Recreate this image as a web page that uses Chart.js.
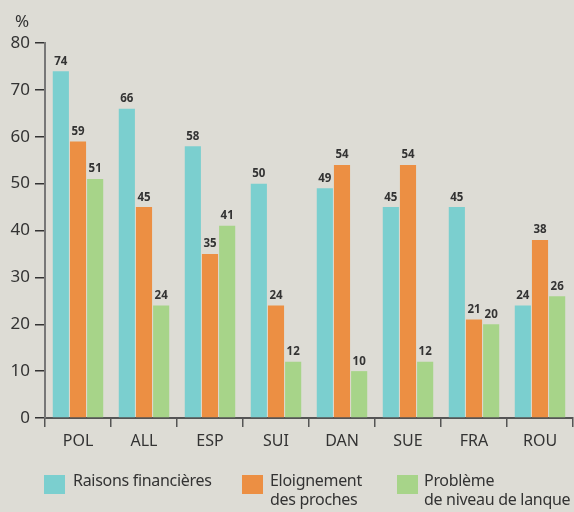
<!DOCTYPE html>
<html><head><meta charset="utf-8">
<script src="https://cdn.jsdelivr.net/npm/chart.js@4/dist/chart.umd.min.js"></script>
<style>
html,body{margin:0;padding:0;background:#dddcd5;}
#wrap{position:relative;width:574px;height:512px;overflow:hidden;font-family:"Noto Sans",sans-serif;color:#333;}
canvas{position:absolute;left:0;top:0;}
.pct{position:absolute;left:15px;top:9px;font-size:17px;}
.leg{position:absolute;top:471px;font-size:16px;line-height:19px;white-space:nowrap;letter-spacing:-0.3px;}
.box{position:absolute;top:475px;width:21px;height:19px;}
</style></head>
<body><div id="wrap">
<canvas id="c" width="574" height="512"></canvas>
<div class="pct">%</div>
</div>
<script>
const categories = ["POL","ALL","ESP","SUI","DAN","SUE","FRA","ROU"];
const seriesNames = [["Raisons financières"],["Eloignement","des proches"],["Problème","de niveau de lanque"]];
const financieres = [74,66,58,50,49,45,45,24];
const eloignement = [59,45,35,24,54,54,21,38];
const langue = [51,24,41,12,10,12,20,26];
const yTicks = [0,10,20,30,40,50,60,70,80];
const colors = ["#7bcfcf","#ec8f43","#a7d489"];

const wrap = document.getElementById('wrap');
const legPos = [[44,73],[242,270],[397,424]];
seriesNames.forEach((n,i)=>{
  const b=document.createElement('div');b.className='box';b.style.left=legPos[i][0]+'px';b.style.background=colors[i];wrap.appendChild(b);
  const t=document.createElement('div');t.className='leg';t.style.left=legPos[i][1]+'px';t.innerHTML=n.join('<br>');wrap.appendChild(t);
});

const valueLabels = {
  id:'valueLabels',
  afterDatasetsDraw(chart){
    const ctx=chart.ctx;ctx.save();
    ctx.font='bold 11.5px "Noto Sans", sans-serif';ctx.fillStyle='#333';ctx.textAlign='center';ctx.textBaseline='bottom';
    chart.data.datasets.forEach((ds,i)=>{
      chart.getDatasetMeta(i).data.forEach((bar,j)=>{
        ctx.fillText(ds.data[j], bar.x, bar.y-4);
      });
    });
    ctx.restore();
  }
};

new Chart(document.getElementById('c'),{
  type:'bar',
  data:{labels:categories,datasets:[
    {label:seriesNames[0].join(' '),data:financieres,backgroundColor:colors[0]},
    {label:seriesNames[1].join(' '),data:eloignement,backgroundColor:colors[1]},
    {label:seriesNames[2].join(' '),data:langue,backgroundColor:colors[2]}
  ]},
  options:{
    responsive:false,animation:false,
    layout:{padding:{top:43,right:1,left:0,bottom:0}},
    plugins:{legend:{display:false},tooltip:{enabled:false}},
    datasets:{bar:{categoryPercentage:0.78,barPercentage:0.94}},
    scales:{
      x:{
        offset:true,
        grid:{display:true,offset:true,drawOnChartArea:false,drawTicks:true,tickLength:9,color:'#555',lineWidth:1.5},
        border:{display:true,color:'#555',width:2},
        ticks:{color:'#333',font:{size:16,family:'"Noto Sans", sans-serif'},padding:5},
        afterFit(s){s.height=94;}
      },
      y:{
        min:0,max:80,
        afterBuildTicks(s){s.ticks=yTicks.map(v=>({value:v}));},
        grid:{display:true,drawOnChartArea:false,drawTicks:true,tickLength:10,color:'#333',lineWidth:1.5},
        border:{display:true,color:'#777',width:2},
        ticks:{color:'#333',font:{size:17,family:'"Noto Sans", sans-serif'},padding:5},
        afterFit(s){s.width=45;}
      }
    }
  },
  plugins:[valueLabels]
});
</script>
</body></html>
